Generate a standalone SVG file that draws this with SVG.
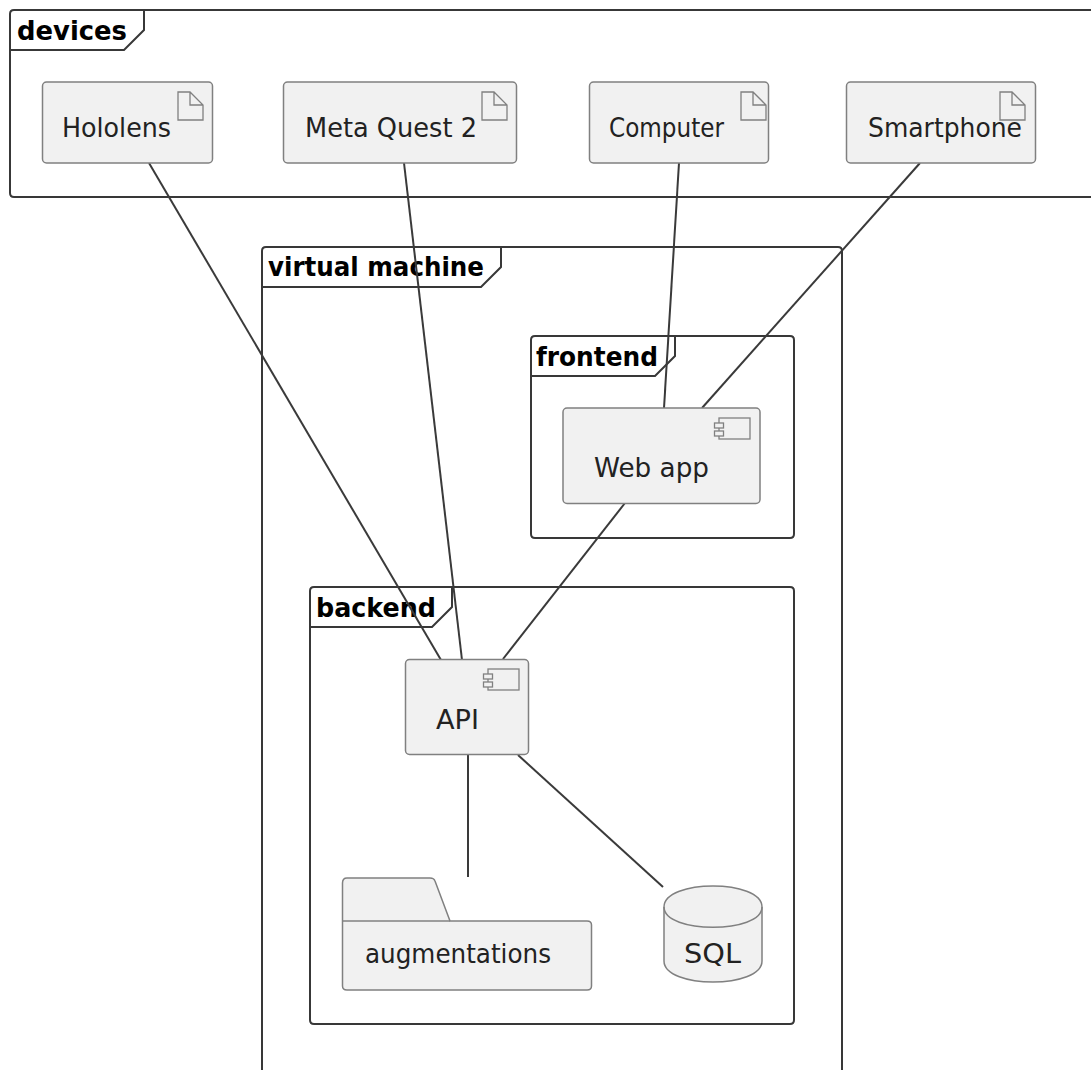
<svg xmlns="http://www.w3.org/2000/svg" width="1091" height="1070" viewBox="0 0 1091 1070">
<style>
.frame{fill:none;stroke:#383838;stroke-width:2}
.box{fill:#f1f1f1;stroke:#808080;stroke-width:1.5}
.ic{fill:#f1f1f1;stroke:#808080;stroke-width:1.3}
.lbl{font-family:"DejaVu Sans",sans-serif;font-size:27px;fill:#222}
.ttl{font-family:"DejaVu Sans",sans-serif;font-size:26px;font-weight:bold;fill:#000}
.conn{fill:none;stroke:#3a3a3a;stroke-width:2}
</style>
<rect width="1091" height="1070" fill="#fff"/>
<g id="frame-devices">
<path class="frame" d="M1091 10H14Q10 10 10 14V193Q10 197 14 197H1091"/>
<path class="frame" d="M10 50H124L144 30V10"/>
<text class="ttl" x="17" y="40" textLength="110" lengthAdjust="spacingAndGlyphs">devices</text>
</g>
<g id="frame-vm">
<path class="frame" d="M262 1070V251Q262 247 266 247H838Q842 247 842 251V1070"/>
<path class="frame" d="M262 287H481L501 267V247"/>
<text class="ttl" x="268" y="276" textLength="216" lengthAdjust="spacingAndGlyphs">virtual machine</text>
</g>
<g id="frame-frontend">
<path class="frame" d="M531 340Q531 336 535 336H790Q794 336 794 340V534Q794 538 790 538H535Q531 538 531 534Z"/>
<path class="frame" d="M531 376H655L675 356V336"/>
<text class="ttl" x="536" y="366" textLength="122" lengthAdjust="spacingAndGlyphs">frontend</text>
</g>
<g id="frame-backend">
<path class="frame" d="M310 591Q310 587 314 587H790Q794 587 794 591V1020Q794 1024 790 1024H314Q310 1024 310 1020Z"/>
<path class="frame" d="M310 627H432L452 607V587"/>
<text class="ttl" x="316" y="617" textLength="120" lengthAdjust="spacingAndGlyphs">backend</text>
</g>
<g id="connectors">
<path class="conn" d="M149 163L441 660"/>
<path class="conn" d="M404 163L462 660"/>
<path class="conn" d="M679 163L664 408"/>
<path class="conn" d="M920 163L702 408"/>
<path class="conn" d="M625 503L503 659"/>
<path class="conn" d="M468 754V877"/>
<path class="conn" d="M518 755L663 887"/>
</g>
<g id="node-hololens">
<rect class="box" x="42.500" y="82" width="170" height="81" rx="4"/>
<path class="ic" d="M178 92H190L203 105V120H178ZM190 92V105H203"/>
<text class="lbl" x="62" y="137" textLength="109" lengthAdjust="spacingAndGlyphs">Hololens</text>
</g>
<g id="node-quest">
<rect class="box" x="283.500" y="82" width="233" height="81" rx="4"/>
<path class="ic" d="M482 92H494L507 105V120H482ZM494 92V105H507"/>
<text class="lbl" x="305" y="137" textLength="172" lengthAdjust="spacingAndGlyphs">Meta Quest 2</text>
</g>
<g id="node-computer">
<rect class="box" x="589.500" y="82" width="179" height="81" rx="4"/>
<path class="ic" d="M741 92H753L766 105V120H741ZM753 92V105H766"/>
<text class="lbl" x="609" y="137" textLength="115" lengthAdjust="spacingAndGlyphs">Computer</text>
</g>
<g id="node-smartphone">
<rect class="box" x="846.500" y="82" width="189" height="81" rx="4"/>
<path class="ic" d="M1000 92H1012L1025 105V120H1000ZM1012 92V105H1025"/>
<text class="lbl" x="868" y="137" textLength="154" lengthAdjust="spacingAndGlyphs">Smartphone</text>
</g>
<g id="node-webapp">
<rect class="box" x="563" y="408" width="197" height="95.500" rx="4"/>
<rect class="ic" x="719" y="418" width="31" height="21"/>
<rect class="ic" x="714.500" y="423" width="9" height="5"/>
<rect class="ic" x="714.500" y="431" width="9" height="5"/>
<text class="lbl" x="594" y="477" textLength="115" lengthAdjust="spacingAndGlyphs">Web app</text>
</g>
<g id="node-api">
<rect class="box" x="405.500" y="659.500" width="123" height="95" rx="4"/>
<rect class="ic" x="488" y="669" width="31" height="21"/>
<rect class="ic" x="483.500" y="674" width="9" height="5"/>
<rect class="ic" x="483.500" y="682" width="9" height="5"/>
<text class="lbl" x="436" y="729" textLength="43" lengthAdjust="spacingAndGlyphs">API</text>
</g>
<g id="node-augmentations">
<path class="box" d="M342.500 921V883Q342.500 878 347 878H430Q434 878 435 881L450 921H587Q591.500 921 591.500 925V986Q591.500 990 587 990H347Q342.500 990 342.500 986Z"/>
<path class="box" style="fill:none" d="M342.500 921H450"/>
<text class="lbl" x="365" y="963" textLength="186" lengthAdjust="spacingAndGlyphs">augmentations</text>
</g>
<g id="node-sql">
<path class="box" d="M664 907C664 879 762 879 762 907V961C762 989 664 989 664 961Z"/>
<path class="box" style="fill:none" d="M664 907C664 934 762 934 762 907"/>
<text class="lbl" x="684" y="963" textLength="57" lengthAdjust="spacingAndGlyphs">SQL</text>
</g>
</svg>
